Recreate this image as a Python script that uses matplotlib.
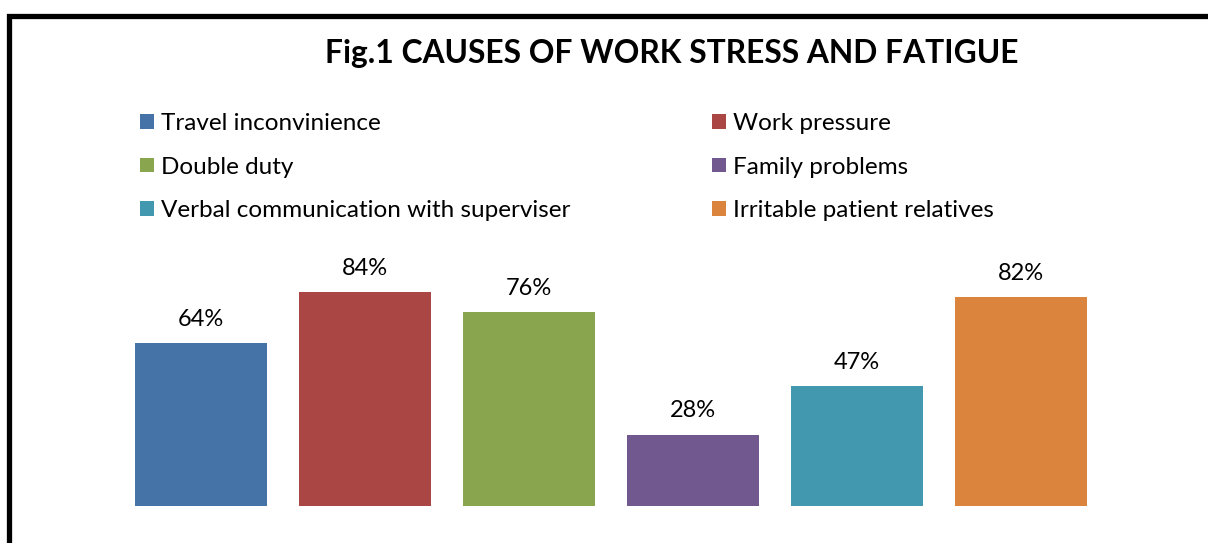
import matplotlib
matplotlib.use("Agg")
import matplotlib.pyplot as plt
from matplotlib.patches import Rectangle, Patch

categories = ["Travel inconvinience", "Work pressure", "Double duty",
              "Family problems", "Verbal communication with superviser",
              "Irritable patient relatives"]
values = [64, 84, 76, 28, 47, 82]
colors = ["#4573A7", "#AA4744", "#89A54E", "#71588F", "#4298AF", "#DB843D"]
title = "Fig.1 CAUSES OF WORK STRESS AND FATIGUE"

plt.rcParams['font.family'] = ['Lato', 'DejaVu Sans']

W, H = 1208, 543
fig = plt.figure(figsize=(W / 100, H / 100), dpi=100)

# axes placement in pixels
left_px, right_px = 119, 1102.5
bottom_px, top_px = 506, 251
ax = fig.add_axes([left_px / W, 1 - bottom_px / H,
                   (right_px - left_px) / W, (bottom_px - top_px) / H])
x = list(range(len(values)))
bars = ax.bar(x, values, width=0.805, color=colors)
ax.set_xlim(-0.5, len(values) - 0.5)
ax.set_ylim(0, 100)
ax.axis('off')
for xi, v in zip(x, values):
    ax.annotate(f"{v}%", (xi, v), xytext=(0, 17), textcoords='offset points',
                ha='center', va='center', fontsize=17, color='black')

fig.text(672 / W, 1 - 53 / H, title, ha='center', va='center',
         fontsize=22.9, fontweight='bold')

order = [0, 2, 4, 1, 3, 5]
handles = [Patch(facecolor=colors[i]) for i in order]
labels = [categories[i] for i in order]
leg = fig.legend(handles, labels, ncol=2, loc='upper left',
                 bbox_to_anchor=(140 / W, 1 - 113 / H), frameon=False,
                 fontsize=17.5, handlelength=0.58, handleheight=0.55,
                 handletextpad=0.3, labelspacing=0.93, columnspacing=5.8,
                 borderaxespad=0, borderpad=0)

fig.patches.append(Rectangle((8.5 / W, -0.1), 1.2, 1.1 - 15.5 / H,
                             transform=fig.transFigure, fill=False,
                             edgecolor='black', linewidth=3.8))

fig.savefig("out.png", dpi=100)
